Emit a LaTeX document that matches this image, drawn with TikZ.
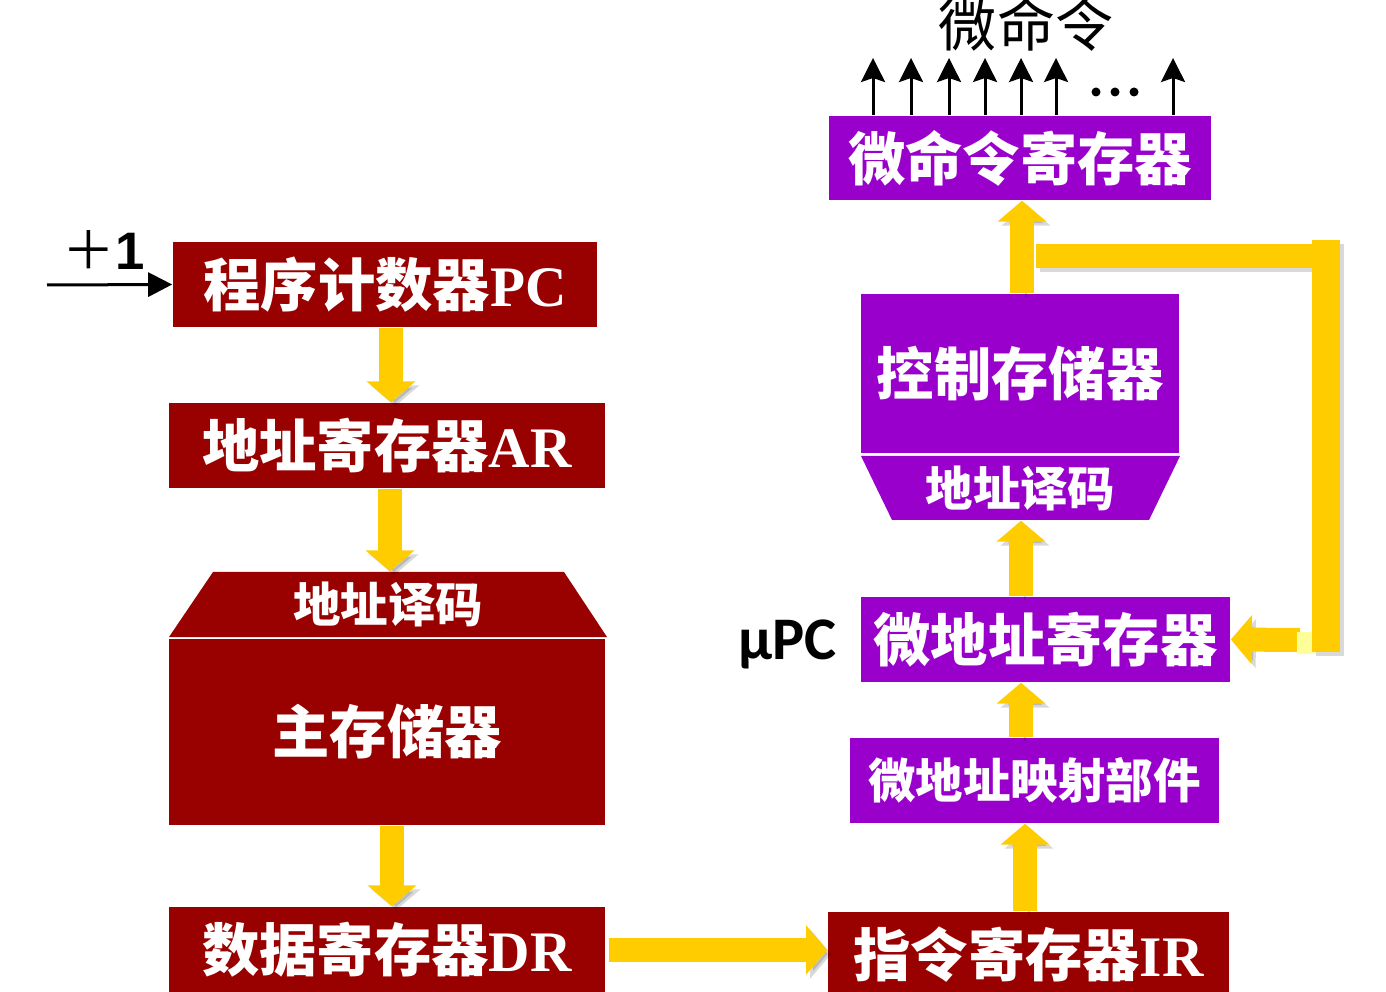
\documentclass[tikz,border=0pt]{standalone}
\usepackage{fontspec}
\usetikzlibrary{arrows.meta,calc}
\newfontfamily\cjk{Noto Sans CJK SC}
\newfontfamily\lser{Liberation Serif}
\newfontfamily\lsans{Liberation Sans}
\newfontfamily\carl{Carlito}
\newcommand\BoxFont{\fontsize{16.3pt}{18pt}\selectfont}
\newcommand\DecFont{\fontsize{13.5pt}{15pt}\selectfont}
\definecolor{dred}{RGB}{153,0,0}
\definecolor{purp}{RGB}{153,0,204}
\definecolor{yel}{RGB}{255,204,0}
\definecolor{lyel}{RGB}{255,255,153}
\begin{document}
\begin{tikzpicture}[x=0.01cm,y=-0.01cm,
  box/.style={inner sep=0pt, text=white, font=\BoxFont},
  redbox/.style={box, fill=dred},
  purbox/.style={box, fill=purp},
  dectext/.style={inner sep=0pt, text=white, font=\DecFont},
  yarrow/.style={draw=yel, line width=0.24cm, -{Triangle[length=0.21cm,width=0.48cm]},
    preaction={draw=black, opacity=0.15, transform canvas={shift={(0.04cm,-0.04cm)}}}},
  barrow/.style={draw=black, line width=0.03cm, -{Stealth[length=0.24cm,width=0.24cm,inset=0.04cm]}},
]
\useasboundingbox (0,0) rectangle (1386,992);

% ---------- left column ----------
\node[redbox, minimum width=4.24cm, minimum height=0.85cm] (pc) at (385,284.5)
  {{\cjk\bfseries 程序计数器}{\lser\bfseries PC}};
\node[redbox, minimum width=4.36cm, minimum height=0.85cm] (ar) at (387,445.5)
  {{\cjk\bfseries 地址寄存器}{\lser\bfseries AR}};
\fill[dred] (169,637) -- (607,637) -- (564,572) -- (213,572) -- cycle;
\node[dectext, minimum width=4.38cm, minimum height=0.65cm] (ldec) at (388,604.5)
  {\cjk\bfseries 地址译码};
\node[redbox, minimum width=4.36cm, minimum height=1.86cm] (mem) at (387,732)
  {\cjk\bfseries 主存储器};
\node[redbox, minimum width=4.36cm, minimum height=0.85cm] (dr) at (387,949.5)
  {{\cjk\bfseries 数据寄存器}{\lser\bfseries DR}};

% ---------- right column ----------
\node[redbox, minimum width=4.01cm, minimum height=0.85cm] (ir) at (1028.5,954.5)
  {{\cjk\bfseries 指令寄存器}{\lser\bfseries IR}};
\node[purbox, minimum width=3.69cm, minimum height=0.85cm, font=\DecFont] (map) at (1034.5,780.5)
  {\cjk\bfseries 微地址映射部件};
\node[purbox, minimum width=3.69cm, minimum height=0.85cm] (mpc) at (1045.5,639.5)
  {\cjk\bfseries 微地址寄存器};
\fill[purp] (861,456) -- (1180,456) -- (1149,520) -- (892,520) -- cycle;
\node[dectext, minimum width=3.19cm, minimum height=0.64cm] (rdec) at (1020.5,488)
  {\cjk\bfseries 地址译码};
\node[purbox, minimum width=3.18cm, minimum height=1.59cm] (cs) at (1020,373.5)
  {\cjk\bfseries 控制存储器};
\node[purbox, minimum width=3.82cm, minimum height=0.84cm] (mcr) at (1020,158)
  {\cjk\bfseries 微命令寄存器};

% ---------- labels ----------
\node[anchor=base west, inner sep=0pt] (plus) at (62,270)
  {\fontsize{15pt}{15pt}\selectfont{\cjk ＋}{\lsans\bfseries 1}};
\node[anchor=base west, inner sep=0pt] (upc) at (738,659)
  {\carl\bfseries\fontsize{17.2pt}{17pt}\selectfont μPC};
\node[inner sep=0pt] (mc) at (1026,24) {\cjk\fontsize{16.5pt}{17pt}\selectfont 微命令};

% ---------- yellow arrows ----------
\draw[yarrow] (pc.south -| 391,0) -- (ar.north -| 391,0);
\draw[yarrow] (ar.south -| 390,0) -- (ldec.north -| 390,0);
\draw[yarrow] (mem.south -| 392,0) -- (dr.north -| 392,0);
\draw[yarrow, shorten <=0.03cm] (dr.east |- 0,950) -- (ir.west |- 0,950);
\draw[yarrow] (ir.north -| 1025,0) -- (map.south -| 1025,0);
\draw[yarrow] (map.north -| 1021,0) -- (mpc.south -| 1021,0);
\draw[yarrow] (mpc.north -| 1021,0) -- (rdec.south -| 1021,0);
\draw[yarrow] (cs.north -| 1022,0) -- (mcr.south -| 1022,0);

% feedback loop
\fill[black, opacity=0.15] (1040,248) rectangle (1316,272);
\fill[black, opacity=0.15] (1316,244) rectangle (1344,656);
\fill[yel] (1036,244) rectangle (1312,268);
\coordinate (fb) at (1300,640);
\draw[yarrow] (fb) -- (mpc.east);
\fill[lyel] (1297,632) rectangle (1316,654);
\fill[yel] (1312,240) rectangle (1340,652);

% ---------- black arrows ----------
\coordinate (incstart) at (47,285);
\draw[line width=0.03cm, -{Triangle[length=0.24cm,width=0.24cm]}] (incstart) -- (pc.west);
\foreach \xx in {873,911,949,985,1021,1056,1173}{
  \coordinate (top\xx) at (\xx,58);
  \draw[barrow] (mcr.north -| \xx,0) -- (top\xx);
}
\fill (1096,92) circle (0.045cm);
\fill (1115,92) circle (0.045cm);
\fill (1134,92) circle (0.045cm);
\end{tikzpicture}
\end{document}
